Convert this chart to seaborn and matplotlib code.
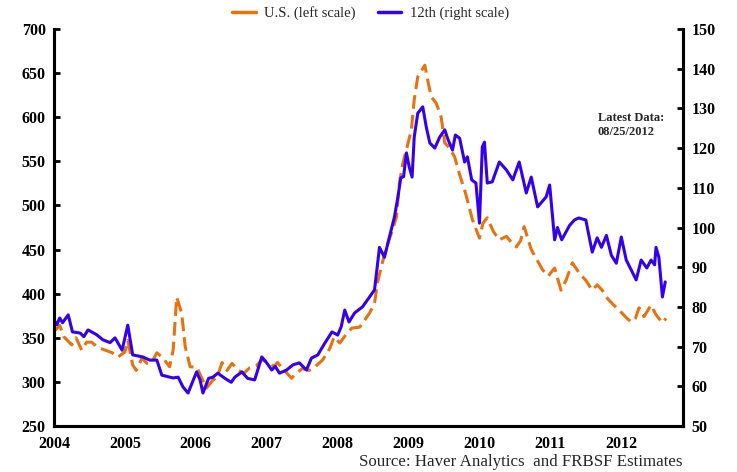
import numpy as np
import pandas as pd
import seaborn as sns
import matplotlib.pyplot as plt
from matplotlib.lines import Line2D

# U.S. series (left scale), fractional year / value
us_t = [2004.00, 2004.08, 2004.14, 2004.25, 2004.31, 2004.39, 2004.46, 2004.53, 2004.62, 2004.72,
        2004.82, 2004.90, 2005.00, 2005.04, 2005.11, 2005.16, 2005.24, 2005.31, 2005.38, 2005.45,
        2005.54, 2005.63, 2005.68, 2005.73, 2005.80, 2005.85, 2005.92, 2006.01, 2006.08, 2006.15,
        2006.24, 2006.30, 2006.37, 2006.44, 2006.51, 2006.60, 2006.68, 2006.76, 2006.85, 2006.93,
        2007.04, 2007.10, 2007.15, 2007.25, 2007.35, 2007.42, 2007.50, 2007.60, 2007.68, 2007.79,
        2007.89, 2007.95, 2008.03, 2008.13, 2008.20, 2008.31, 2008.38, 2008.45, 2008.52, 2008.56,
        2008.63, 2008.69, 2008.76, 2008.83, 2008.87, 2008.92, 2008.97, 2009.04, 2009.08, 2009.13,
        2009.23, 2009.27, 2009.32, 2009.39, 2009.46, 2009.51, 2009.58, 2009.65, 2009.72, 2009.80,
        2009.90, 2010.00, 2010.05, 2010.11, 2010.20, 2010.28, 2010.38, 2010.45, 2010.52, 2010.58,
        2010.63, 2010.73, 2010.80, 2010.89, 2010.97, 2011.06, 2011.15, 2011.22, 2011.31, 2011.41,
        2011.50, 2011.59, 2011.66, 2011.73, 2011.80, 2011.87, 2012.01, 2012.08, 2012.14, 2012.20,
        2012.25, 2012.32, 2012.42, 2012.49, 2012.58, 2012.63]
us_v = [357, 364, 351, 342, 350, 336, 345, 345, 339, 336,
        333, 328, 334, 347, 319, 313, 327, 321, 322, 333,
        327, 317, 336, 396, 378, 340, 317, 317, 305, 293,
        302, 305, 322, 313, 321, 313, 310, 316, 318, 325,
        322, 317, 322, 313, 304, 310, 315, 313, 317, 325,
        338, 351, 344, 355, 361, 362, 370, 378, 389, 412,
        435, 453, 469, 487, 525, 548, 563, 586, 620, 646,
        659, 642, 623, 616, 600, 571, 565, 555, 535, 515,
        484, 463, 480, 486, 470, 461, 465, 458, 453, 460,
        476, 450, 440, 427, 420, 429, 404, 415, 435, 423,
        415, 404, 410, 404, 395, 389, 378, 372, 368, 372,
        384, 374, 387, 376, 367, 372]

# 12th District series (right scale)
d12_t = [2004.00, 2004.04, 2004.08, 2004.12, 2004.20, 2004.26, 2004.37, 2004.42, 2004.48, 2004.60,
         2004.69, 2004.79, 2004.86, 2004.96, 2005.04, 2005.11, 2005.25, 2005.35, 2005.45, 2005.52,
         2005.68, 2005.75, 2005.82, 2005.89, 2006.01, 2006.06, 2006.10, 2006.18, 2006.24, 2006.31,
         2006.41, 2006.50, 2006.55, 2006.65, 2006.73, 2006.83, 2006.93, 2007.00, 2007.07, 2007.12,
         2007.18, 2007.28, 2007.37, 2007.46, 2007.56, 2007.63, 2007.72, 2007.82, 2007.92, 2008.00,
         2008.05, 2008.10, 2008.16, 2008.24, 2008.35, 2008.45, 2008.52, 2008.59, 2008.66, 2008.73,
         2008.80, 2008.85, 2008.89, 2008.93, 2008.97, 2009.01, 2009.05, 2009.08, 2009.13, 2009.20,
         2009.25, 2009.30, 2009.37, 2009.44, 2009.51, 2009.56, 2009.62, 2009.66, 2009.72, 2009.79,
         2009.83, 2009.89, 2009.95, 2010.00, 2010.04, 2010.07, 2010.11, 2010.18, 2010.28, 2010.38,
         2010.47, 2010.56, 2010.66, 2010.73, 2010.82, 2010.94, 2010.99, 2011.06, 2011.10, 2011.16,
         2011.27, 2011.34, 2011.40, 2011.50, 2011.59, 2011.66, 2011.72, 2011.79, 2011.86, 2011.93,
         2012.00, 2012.07, 2012.21, 2012.28, 2012.36, 2012.42, 2012.47, 2012.49, 2012.53, 2012.58,
         2012.62]
d12_v = [76.7, 75.5, 77.2, 76.0, 78.0, 73.7, 73.4, 72.5, 74.2, 73.0,
         71.7, 71.0, 72.2, 69.1, 75.4, 67.9, 67.4, 66.6, 66.6, 62.8,
         62.1, 62.3, 59.8, 58.3, 63.6, 61.6, 58.3, 62.0, 62.3, 63.3,
         62.0, 61.0, 62.3, 63.6, 62.0, 61.6, 67.4, 65.9, 64.1, 65.0,
         63.3, 64.1, 65.4, 65.9, 64.1, 67.1, 67.9, 70.9, 73.7, 72.9,
         75.0, 79.2, 76.2, 78.5, 80.0, 82.5, 84.3, 95.0, 92.5, 97.6,
         102.6, 107.7, 112.5, 112.8, 118.8, 115.2, 112.7, 122.8, 128.8, 130.4,
         125.3, 121.3, 120.0, 122.8, 124.6, 122.0, 119.5, 123.3, 122.5, 116.5,
         117.8, 112.0, 111.2, 101.1, 120.3, 121.5, 111.2, 111.5, 116.5, 114.5,
         112.0, 116.5, 108.7, 112.7, 105.2, 107.7, 110.7, 96.9, 100.0, 96.9,
         100.5, 101.9, 102.4, 101.9, 93.8, 97.4, 95.0, 98.0, 93.0, 91.0,
         97.6, 91.8, 86.8, 91.8, 89.8, 91.8, 90.6, 95.0, 92.5, 82.5,
         86.3]

years = list(range(2004, 2013))
left_ticks = list(range(250, 701, 50))
right_ticks = list(range(50, 151, 10))

US_COLOR = "#E8730E"
D12_COLOR = "#3300F0"

sns.set_theme(style="white")
plt.rcParams["font.family"] = ["Liberation Serif", "DejaVu Serif"]

us_df = pd.DataFrame({"t": us_t, "v": us_v})
d12_df = pd.DataFrame({"t": d12_t, "v": d12_v})

fig = plt.figure(figsize=(7.37, 4.72), dpi=100)
ax = fig.add_axes([0.0733, 0.0975, 0.8534, 0.841])
ax2 = ax.twinx()

sns.lineplot(data=us_df, x="t", y="v", ax=ax, color=US_COLOR, linewidth=2.2,
             linestyle=(0, (4.5, 2.0)))
sns.lineplot(data=d12_df, x="t", y="v", ax=ax2, color=D12_COLOR, linewidth=2.2)

ax.set_xlim(2004, 2012.87)
ax.set_ylim(250, 700)
ax2.set_ylim(50, 150)
ax.set_xticks(years)
ax.set_xticklabels([str(y) for y in years])
ax.set_yticks(left_ticks)
ax2.set_yticks(right_ticks)
for a in (ax, ax2):
    a.set_xlabel("")
    a.set_ylabel("")
    a.grid(False)
    a.spines["top"].set_visible(False)
    for s in ("left", "right", "bottom"):
        a.spines[s].set_linewidth(2.2)
        a.spines[s].set_color("black")
    a.tick_params(direction="in", length=4, width=2, colors="black",
                  labelsize=11.5, pad=6)
    for lab in a.get_xticklabels() + a.get_yticklabels():
        lab.set_fontweight("bold")
ax.tick_params(axis="y", right=False)
ax2.tick_params(axis="y", left=False)
ax.tick_params(axis="x", pad=7)

handles = [Line2D([], [], color=US_COLOR, linewidth=2.5),
           Line2D([], [], color=D12_COLOR, linewidth=2.5)]
fig.legend(handles, ["U.S. (left scale)", "12th (right scale)"], loc="center",
           bbox_to_anchor=(0.503, 0.972), ncol=2, frameon=False, fontsize=10.5,
           handlelength=1.6, columnspacing=1.5, handletextpad=0.6)

fig.text(0.811, 0.735, "Latest Data:\n08/25/2012", fontsize=9, fontweight="bold",
         ha="left", va="center", linespacing=1.2)
fig.text(0.926, 0.022, "Source: Haver Analytics  and FRBSF Estimates", fontsize=12.2,
         ha="right", va="center")

fig.savefig("out.png", dpi=100)
